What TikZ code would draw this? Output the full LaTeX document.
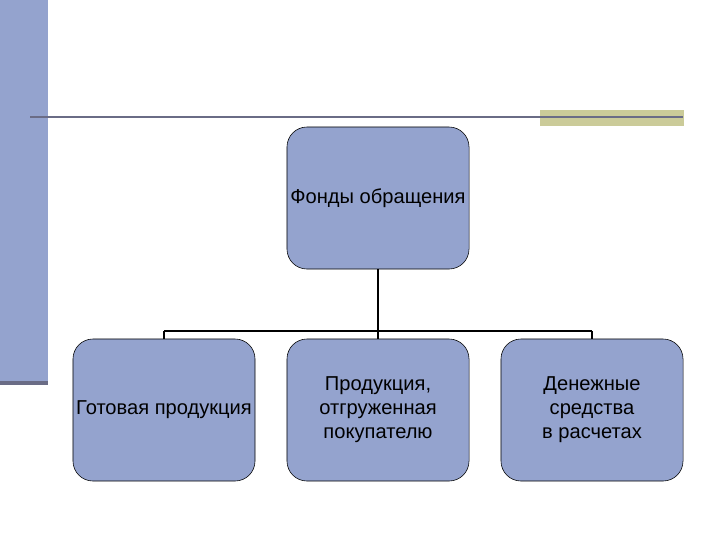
\documentclass[tikz,border=0pt]{standalone}
\usepackage{fontspec}
\setmainfont{Liberation Sans}
\usetikzlibrary{positioning,calc}
\definecolor{fsBlue}{HTML}{94A3CE}
\definecolor{fsLine}{HTML}{6A6C86}
\definecolor{fsOlive}{HTML}{CBCB99}
\tikzset{
    fsBox/.style={
        rectangle,
        draw=black,
        thin,
        fill=fsBlue,
        rounded corners=0.5cm,
        minimum width=4.55cm,
        minimum height=3.55cm,
        align=center,
        font=\fontsize{14.3}{17}\selectfont,
        inner sep=1pt
    },
    % Connectors
    fsLink/.style={draw=black, line width=1.1pt}
}
\begin{document}
\begin{tikzpicture}[x=0.025cm, y=-0.025cm]
\useasboundingbox (0,0) rectangle (720,540);
% Background decoration
\fill[fsBlue] (0,0) rectangle (48,383);
\fill[fsLine] (0,381) rectangle (48,385);
\fill[fsOlive] (540,110) rectangle (684,126);
\draw[fsLine, line width=1.2pt] (30,117) -- (683,117);

% Top level
\node[fsBox] (fonds) at (378,198) {Фонды обращения};

% Second level
\node[fsBox] (gotov) at (164,410) {Готовая продукция};
\node[fsBox] (otgr) at (378,410) {Продукция,\\отгруженная\\покупателю};
\node[fsBox] (den) at (592,410) {Денежные\\средства\\в расчетах};

% Connectors
\coordinate (bus) at (378,331);
\draw[fsLink] (fonds.south) -- (fonds.south |- bus);
\draw[fsLink] (gotov.north |- bus) -- (den.north |- bus);
\draw[fsLink] (gotov.north |- bus) -- (gotov.north);
\draw[fsLink] (otgr.north |- bus) -- (otgr.north);
\draw[fsLink] (den.north |- bus) -- (den.north);
\end{tikzpicture}
\end{document}
